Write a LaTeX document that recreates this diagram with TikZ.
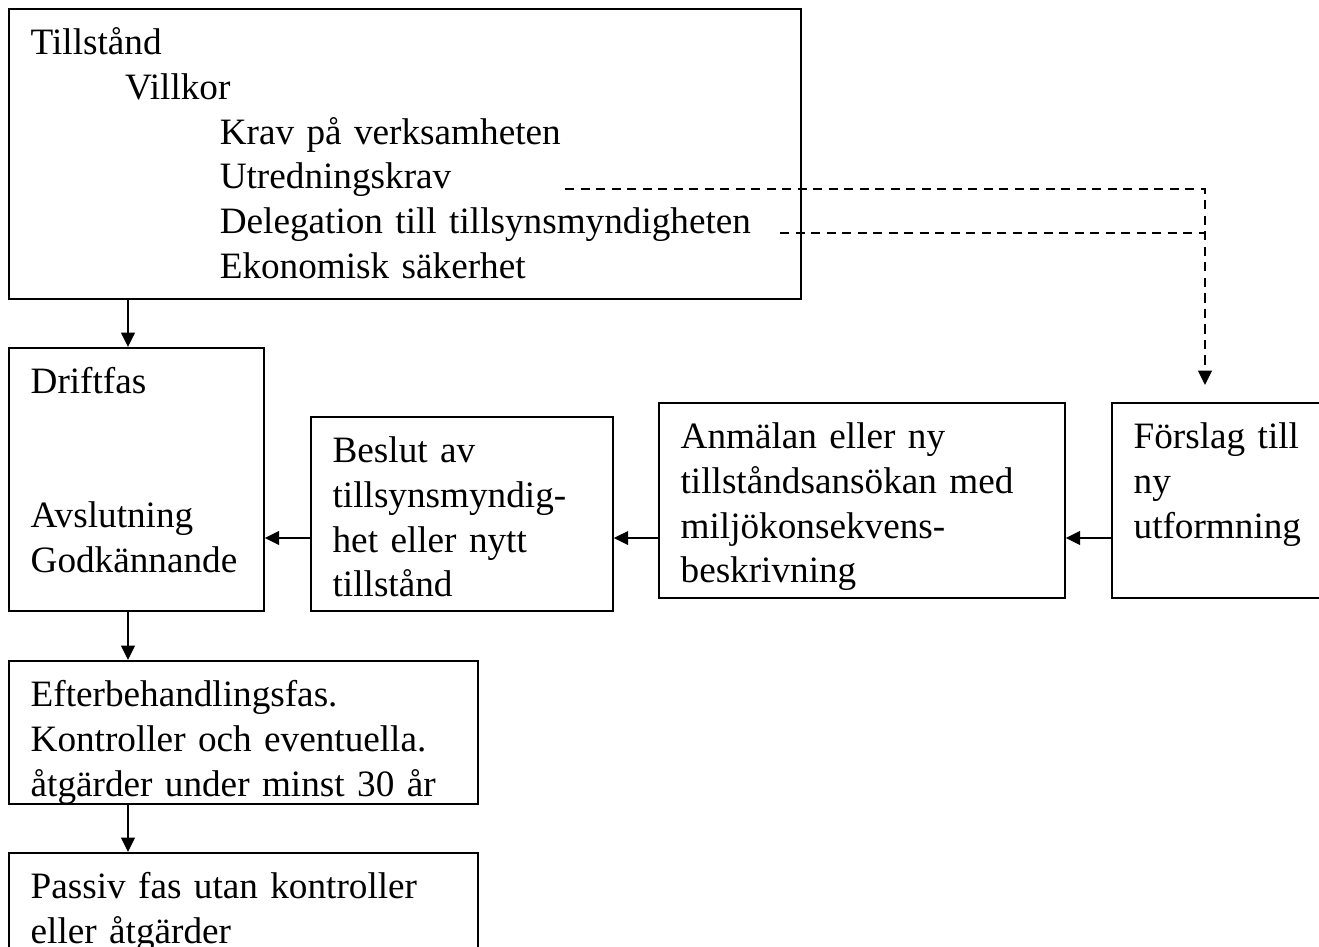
\documentclass[tikz,border=0pt]{standalone}
\usepackage{fontspec}
\setmainfont{Liberation Serif}
\usepackage{tikz}
\usetikzlibrary{arrows.meta, positioning}
\hyphenpenalty=10000
\tikzstyle{rbox}=[rectangle, draw=black, line width=0.6pt, anchor=north west,
  align=left, inner xsep=7pt, inner ysep=0pt, text height=14.8pt,
  font=\fontsize{12}{14.4}\selectfont, text=black]
\tikzstyle{parr}=[-{Triangle[length=4.6pt, width=4.4pt]}, line width=0.6pt]
\tikzstyle{dline}=[line width=0.6pt, dash pattern=on 3pt off 2pt]
\tikzstyle{darr}=[dline, -{Triangle[length=4.6pt, width=4.4pt]}]

\begin{document}
\begin{tikzpicture}[x=0.3225pt, y=-0.3225pt]
        \path[use as bounding box, fill=white] (0,0) rectangle (1319,946);
        \clip (0,0) rectangle (1319,946);
        % boxes
        \node[rbox, text width=241.4pt, text depth=78.7pt] (tillst) at (8,8)
          {Tillstånd\\
           \hspace*{30.5pt}Villkor\\
           \hspace*{61pt}Krav på verksamheten\\
           \hspace*{61pt}Utredningskrav\\
           \hspace*{61pt}Delegation till tillsynsmyndigheten\\
           \hspace*{61pt}Ekonomisk säkerhet};
        \node[rbox, text width=68.2pt, text depth=70pt] (drift) at (8,347)
          {Driftfas\\[28.8pt]Avslutning\\Godkännande};
        \node[rbox, text width=83.4pt, text depth=47.8pt] (beslut) at (310,416)
          {Beslut av\\tillsynsmyndig-\\het eller nytt\\tillstånd};
        \node[rbox, text width=116.9pt, text depth=48.1pt] (anm) at (658,402)
          {Anmälan eller ny\\tillståndsansökan med\\miljökonsekvens-\\beskrivning};
        \node[rbox, text width=69.9pt, text depth=48.1pt] (forslag) at (1111,402)
          {Förslag till\\ny\\utformning};
        \node[rbox, text width=137.3pt, text depth=31.3pt] (efter) at (8,660)
          {Efterbehandlingsfas.\\Kontroller och eventuella.\\åtgärder under minst 30 år};
        \node[rbox, text width=137.3pt, text depth=49.7pt] (passiv) at (8,852)
          {Passiv fas utan kontroller\\eller åtgärder};
        % arrows
        \coordinate (ax) at (128,0);
        \coordinate (ay) at (0,538);
        \draw[parr] (tillst.south -| ax) -- (drift.north -| ax);
        \draw[parr] (drift.south -| ax) -- (efter.north -| ax);
        \draw[parr] (efter.south -| ax) -- (passiv.north -| ax);
        \draw[parr] (beslut.west |- ay) -- (drift.east |- ay);
        \draw[parr] (anm.west |- ay) -- (beslut.east |- ay);
        \draw[parr] (forslag.west |- ay) -- (anm.east |- ay);
        % dashed feedback
        \coordinate (d1) at (565,189);
        \coordinate (d2) at (780,233);
        \coordinate (k1) at (1205,189);
        \coordinate (k2) at (1205,233);
        \coordinate (d3) at (1205,385);
        \draw[darr] (d1) -- (k1) -- (d3);
        \draw[dline] (d2) -- (k2);
\end{tikzpicture}
\end{document}
